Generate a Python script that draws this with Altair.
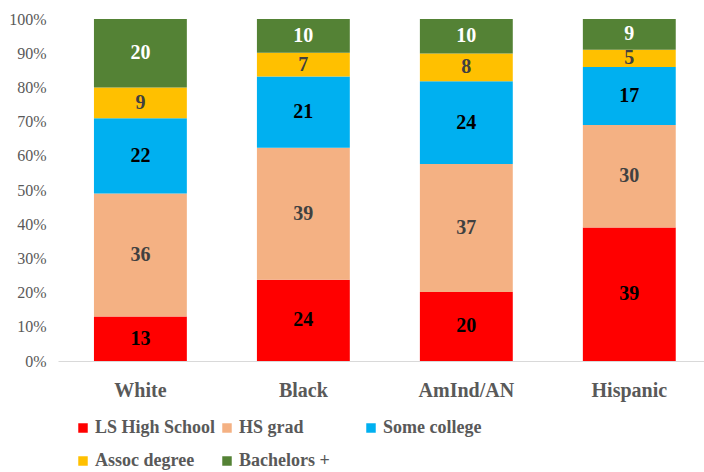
import altair as alt
import pandas as pd

groups = ["White", "Black", "AmInd/AN", "Hispanic"]
levels = ["LS High School", "HS grad", "Some college", "Assoc degree", "Bachelors +"]
colors = ["#FF0000", "#F4B183", "#00B0F0", "#FFC000", "#548235"]
label_colors = ["#000000", "#404040", "#000000", "#404040", "#FFFFFF"]

ls_high_school = [13, 24, 20, 39]
hs_grad = [36, 39, 37, 30]
some_college = [22, 21, 24, 17]
assoc_degree = [9, 7, 8, 5]
bachelors = [20, 10, 10, 9]

series = [ls_high_school, hs_grad, some_college, assoc_degree, bachelors]
rows = []
for li, (lvl, vals) in enumerate(zip(levels, series)):
    for g, v in zip(groups, vals):
        rows.append({"group": g, "level": lvl, "order": li, "value": v,
                     "tcolor": label_colors[li]})
df = pd.DataFrame(rows)

font = "Liberation Serif"
gray = "#595959"

base = alt.Chart(df).transform_stack(
    stack="value", groupby=["group"], as_=["y0", "y1"],
    offset="normalize", sort=[alt.SortField("order", order="ascending")]
).transform_calculate(mid="(datum.y0 + datum.y1) / 2")

x_scale = alt.Scale(paddingInner=0.43, paddingOuter=0.197, align=0.56)
y_scale = alt.Scale(domain=[0, 1])

x_axis = alt.Axis(labelAngle=0, labelFont=font, labelFontSize=20,
                  labelFontWeight="bold", labelColor=gray,
                  labelPadding=19, ticks=False, domainColor="#D9D9D9",
                  domainWidth=1)
y_axis = alt.Axis(format="%", values=[i / 10 for i in range(11)],
                  labelFont=font, labelFontSize=16, labelColor=gray,
                  labelOverlap=False, labelBound=False,
                  ticks=False, domain=False, grid=False, labelPadding=12)

bars = base.mark_bar().encode(
    x=alt.X("group:N", sort=groups, title=None, scale=x_scale, axis=x_axis),
    y=alt.Y("y0:Q", title=None, scale=y_scale, axis=y_axis),
    y2="y1:Q",
    color=alt.Color("level:N", sort=levels, title=None,
                    scale=alt.Scale(domain=levels, range=colors),
                    legend=alt.Legend(orient="none", legendX=16, legendY=400,
                                      columns=3, direction="horizontal",
                                      gridAlign="all", columnPadding=2,
                                      rowPadding=15, symbolType="square",
                                      symbolSize=90, symbolStrokeWidth=0,
                                      labelFont=font, labelFontSize=18,
                                      labelFontWeight="bold", labelColor=gray,
                                      labelOffset=3, labelLimit=300)),
)

labels = base.mark_text(font=font, fontSize=20, fontWeight="bold",
                        baseline="middle").encode(
    x=alt.X("group:N", sort=groups, title=None, scale=x_scale, axis=x_axis),
    y=alt.Y("mid:Q", title=None, scale=y_scale, axis=y_axis),
    text=alt.Text("value:Q"),
    color=alt.Color("tcolor:N", scale=None),
)

chart = (bars + labels).properties(
    width=646, height=342,
    autosize=alt.AutoSizeParams(type="none"),
    padding={"left": 58, "top": 19, "right": 0, "bottom": 111},
).configure(font=font).configure_view(stroke=None)

chart.save("out.html", embed_options={"renderer": "svg", "actions": False})
